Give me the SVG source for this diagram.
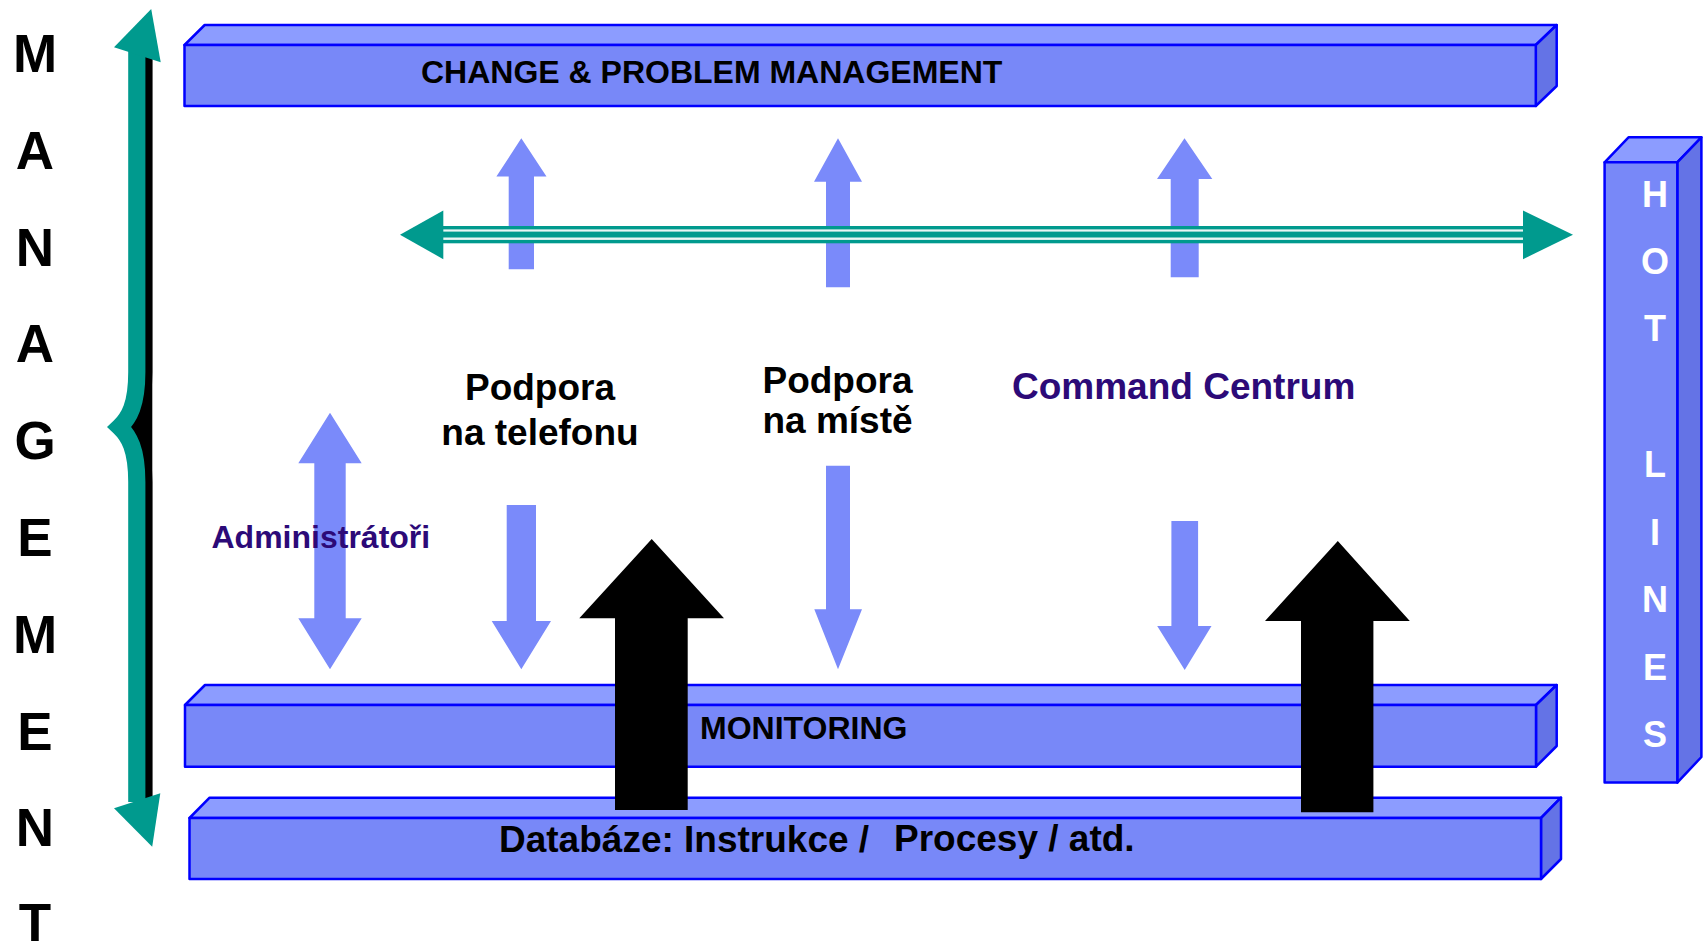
<svg xmlns="http://www.w3.org/2000/svg" width="1706" height="945" viewBox="0 0 1706 945">
<style>
.t{font-family:"Liberation Sans",Arial,sans-serif;font-weight:bold;}
.front{fill:#7888F8;stroke:#0000FF;stroke-width:2.5;stroke-linejoin:round;}
.top{fill:#8C9CFF;stroke:#0000FF;stroke-width:2.5;stroke-linejoin:round;}
.side{fill:#6473E6;stroke:#0000FF;stroke-width:2.5;stroke-linejoin:round;}
.la{fill:#7A8AFA;}
.ba{fill:#000000;}
.teal{fill:#009A8E;}
.big{font-size:53px;fill:#000;text-anchor:middle;}
.lbl{font-size:37px;fill:#000;}
.box{font-size:32px;fill:#000;}
.pur{fill:#2C0A78;}
.hl{font-size:36px;fill:#FFFFFF;text-anchor:middle;}
</style>
<rect x="0" y="0" width="1706" height="945" fill="#FFFFFF"/>

<g id="management-label">
<text class="t big" x="35" y="71.9">M</text>
<text class="t big" x="35" y="168.7">A</text>
<text class="t big" x="35" y="265.5">N</text>
<text class="t big" x="35" y="362.3">A</text>
<text class="t big" x="35" y="459.1">G</text>
<text class="t big" x="35" y="555.9">E</text>
<text class="t big" x="35" y="652.7">M</text>
<text class="t big" x="35" y="749.5">E</text>
<text class="t big" x="35" y="846.3">N</text>
<text class="t big" x="35" y="941">T</text>
</g>

<g id="box-change">
<polygon class="top" points="184.5,45 204.7,25 1556.7,25 1535.8,45"/>
<polygon class="side" points="1535.8,45 1556.7,25 1556.7,86 1535.8,106"/>
<rect class="front" x="184.5" y="45" width="1351.3" height="61"/>
<text class="t box" x="421" y="83.3">CHANGE &amp; PROBLEM MANAGEMENT</text>
</g>

<g id="box-monitoring">
<polygon class="top" points="185,705 205,685 1556.7,685 1536,705"/>
<polygon class="side" points="1536,705 1556.7,685 1556.7,746 1536,766.7"/>
<rect class="front" x="185" y="705" width="1351" height="61.7"/>
<text class="t box" x="700" y="739.3">MONITORING</text>
</g>

<g id="box-databaze">
<polygon class="top" points="189.5,818 209.6,797.7 1561,797.7 1541,818"/>
<polygon class="side" points="1541,818 1561,797.7 1561,859 1541,879"/>
<rect class="front" x="189.5" y="818" width="1351.5" height="61"/>
<text class="t lbl" x="499" y="851.7">Databáze: Instrukce /</text>
<text class="t lbl" x="894" y="850.5">Procesy / atd.</text>
</g>

<g id="box-hotlines">
<polygon class="top" points="1604.6,162.3 1628.5,137.3 1701.4,137.3 1677.3,162.3"/>
<polygon class="side" points="1677.3,162.3 1701.4,137.3 1701.4,757 1677.3,782.6"/>
<rect class="front" x="1604.6" y="162.3" width="72.7" height="620.3"/>
<text class="t hl" x="1655" y="206.5">H</text>
<text class="t hl" x="1655" y="274">O</text>
<text class="t hl" x="1655" y="341">T</text>
<text class="t hl" x="1655" y="477">L</text>
<text class="t hl" x="1655" y="544.5">I</text>
<text class="t hl" x="1655" y="612">N</text>
<text class="t hl" x="1655" y="679.5">E</text>
<text class="t hl" x="1655" y="747">S</text>
</g>

<g id="connectors">
<g id="brace">
<rect class="ba" x="136" y="58" width="16.3" height="738"/>
<path d="M136.8,50 L136.8,372 C136.8,405 129,418 119.5,427 C129,436 136.8,449 136.8,482 L136.8,802" transform="translate(7,0)" fill="none" stroke="#000" stroke-width="17.2"/>
<path d="M136.8,50 L136.8,372 C136.8,405 129,418 119.5,427 C129,436 136.8,449 136.8,482 L136.8,802" fill="none" stroke="#009A8E" stroke-width="17.2"/>
<polygon class="teal" points="151.2,9 160.7,62.3 114,47.3"/>
<polygon class="teal" points="152.2,846.7 114,808.3 160.3,793.3"/>
</g>

<polygon class="la" points="521.3,138.3 546.5,176.5 534,176.5 534,269.3 508.7,269.3 508.7,176.5 496.4,176.5"/>
<polygon class="la" points="838,138.3 862,181.7 850,181.7 850,287.3 826,287.3 826,181.7 814,181.7"/>
<polygon class="la" points="1184.5,138.3 1212.3,179 1198.7,179 1198.7,277.3 1170.7,277.3 1170.7,179 1157,179"/>

<rect class="teal" x="443" y="226" width="1080.5" height="17.3"/>
<rect x="443" y="229.4" width="1080.5" height="2.2" fill="#E8F6F4"/>
<rect x="443" y="237.5" width="1080.5" height="2.4" fill="#E8F6F4"/>
<polygon class="teal" points="400,234.7 443.3,210.5 443.3,259.2"/>
<polygon class="teal" points="1573,234.7 1523,210.5 1523,259.2"/>

<polygon class="la" points="330,412.7 361.7,463.3 345.7,463.3 345.7,618.3 361.7,618.3 330,669.3 298.3,618.3 314.3,618.3 314.3,463.3 298.3,463.3"/>

<polygon class="la" points="506.7,505 536,505 536,621 551,621 521.3,669.3 491.7,621 506.7,621"/>
<polygon class="la" points="826,465.7 850,465.7 850,609.3 862,609.3 838,669.3 814.3,609.3 826,609.3"/>
<polygon class="la" points="1171.4,521 1198.1,521 1198.1,626 1211.5,626 1184.7,670 1157.2,626 1171.4,626"/>

<polygon class="ba" points="651.7,539 724,618.3 687.7,618.3 687.7,810 615,810 615,618.3 579.3,618.3"/>
<polygon class="ba" points="1337.8,541 1409.8,621 1373.4,621 1373.4,812.3 1301,812.3 1301,621 1265,621"/>
</g>

<g id="labels">
<text class="t lbl" x="540" y="400" text-anchor="middle">Podpora</text>
<text class="t lbl" x="540" y="445" text-anchor="middle">na telefonu</text>
<text class="t lbl" x="837.5" y="392.7" text-anchor="middle">Podpora</text>
<text class="t lbl" x="837.5" y="433.3" text-anchor="middle">na místě</text>
<text class="t lbl pur" x="1012" y="399">Command Centrum</text>
<text class="t pur" x="211.5" y="548.3" font-size="32">Administrátoři</text>
</g>
</svg>
